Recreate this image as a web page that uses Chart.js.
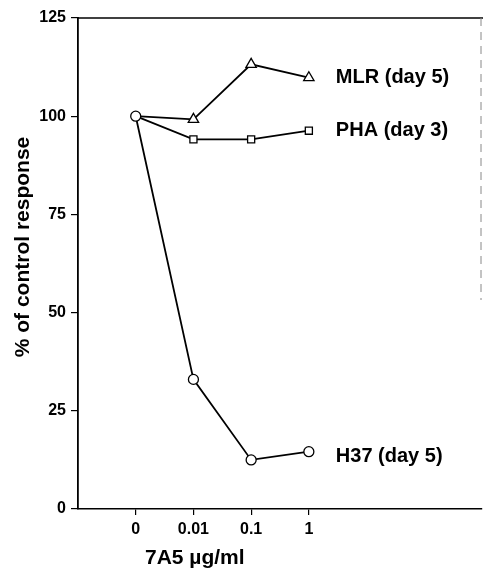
<!DOCTYPE html>
<html>
<head>
<meta charset="utf-8">
<script src="https://cdn.jsdelivr.net/npm/chart.js@4.4.0/dist/chart.umd.min.js"></script>
<style>
  html, body { margin: 0; padding: 0; background: #fff; overflow: hidden; }
  #wrap { width: 483px; height: 570px; }
  canvas { display: block; }
</style>
</head>
<body>
<div id="wrap"><canvas id="chart" width="483" height="570"></canvas></div>
<script>
// dose categories on the x axis, plotted at positions 0..3
const doses = ['0', '0.01', '0.1', '1'];
const yTicks = [0, 25, 50, 75, 100, 125];

// % of control response per dose
const h37 = [100, 33.0, 12.5, 14.6];
const mlr = [100, 99.2, 113.2, 109.8];
const pha = [100, 94.1, 94.1, 96.3];

const seriesNames = ['H37 (day 5)', 'MLR (day 5)', 'PHA (day 3)'];

const FONT = '"Liberation Sans", Arial, Helvetica, sans-serif';

function toPoints(values) {
    return values.map((v, i) => ({ x: i, y: v }));
}

// series names written next to the last point of each line
const endLabels = {
    id: 'endLabels',
    afterDatasetsDraw(chart) {
        const ctx = chart.ctx;
        ctx.save();
        ctx.font = 'bold 20px ' + FONT;
        ctx.fillStyle = '#000';
        ctx.textBaseline = 'middle';
        ctx.textAlign = 'left';
        chart.data.datasets.forEach((ds, i) => {
            const meta = chart.getDatasetMeta(i);
            const last = meta.data[meta.data.length - 1];
            const dy = ds.label.startsWith('H37') ? 5 : 0;
            ctx.fillText(ds.label, last.x + 27, last.y + dy);
        });
        ctx.restore();
    }
};

// axis titles and the frame lines of the original figure
const frame = {
    id: 'frame',
    afterDraw(chart) {
        const ctx = chart.ctx;
        const area = chart.chartArea;
        ctx.save();
        ctx.strokeStyle = '#000';
        ctx.lineWidth = 1.5;
        ctx.beginPath();
        ctx.moveTo(area.left, area.top);
        ctx.lineTo(area.right + 1, area.top);
        ctx.stroke();

        ctx.strokeStyle = '#888';
        ctx.lineWidth = 1;
        ctx.setLineDash([8, 6]);
        ctx.beginPath();
        ctx.moveTo(area.right - 1, area.top);
        ctx.lineTo(area.right - 1, 300);
        ctx.stroke();
        ctx.setLineDash([]);

        ctx.fillStyle = '#000';
        ctx.font = 'bold 21px ' + FONT;
        ctx.textBaseline = 'middle';
        ctx.textAlign = 'left';
        ctx.fillText('7A5 µg/ml', 145, 558);

        ctx.translate(23, 247);
        ctx.rotate(-Math.PI / 2);
        ctx.textAlign = 'center';
        ctx.fillText('% of control response', 0, 0);
        ctx.restore();
    }
};

const lineStyle = {
    borderColor: '#000',
    borderWidth: 1.8,
    pointBackgroundColor: '#fff',
    pointBorderColor: '#000',
    pointBorderWidth: 1.3,
    tension: 0,
    fill: false
};

new Chart(document.getElementById('chart'), {
    type: 'line',
    data: {
        datasets: [
            Object.assign({}, lineStyle, {
                label: seriesNames[0],
                data: toPoints(h37),
                pointStyle: 'circle',
                pointRadius: 5
            }),
            Object.assign({}, lineStyle, {
                label: seriesNames[1],
                data: toPoints(mlr),
                pointStyle: 'triangle',
                pointRadius: [0, 6, 6, 6]
            }),
            Object.assign({}, lineStyle, {
                label: seriesNames[2],
                data: toPoints(pha),
                pointStyle: 'rect',
                pointRadius: [0, 5, 5, 5]
            })
        ]
    },
    options: {
        responsive: false,
        animation: false,
        events: [],
        layout: { autoPadding: false, padding: { top: 18, right: 1, left: 0, bottom: 0 } },
        plugins: {
            legend: { display: false },
            tooltip: { enabled: false }
        },
        scales: {
            x: {
                type: 'linear',
                min: -1,
                max: 6,
                afterBuildTicks: (scale) => {
                    scale.ticks = doses.map((d, i) => ({ value: i }));
                },
                afterFit: (scale) => {
                    scale.height = 61;
                    scale.paddingLeft = 0;
                    scale.paddingRight = 0;
                },
                grid: { drawOnChartArea: false, drawTicks: true, tickLength: 6, color: '#000', lineWidth: 1.2 },
                border: { display: true, color: '#000', width: 1.6 },
                ticks: {
                    color: '#000',
                    padding: 5,
                    maxRotation: 0,
                    font: { family: FONT, size: 16, weight: 'bold' },
                    callback: (v) => doses[v]
                }
            },
            y: {
                type: 'linear',
                min: 0,
                max: 125,
                afterBuildTicks: (scale) => {
                    scale.ticks = yTicks.map(v => ({ value: v }));
                },
                afterFit: (scale) => { scale.width = 78; },
                grid: { drawOnChartArea: false, drawTicks: true, tickLength: 7, color: '#000', lineWidth: 1.2 },
                border: { display: true, color: '#000', width: 1.8 },
                ticks: {
                    color: '#000',
                    padding: 5,
                    font: { family: FONT, size: 16, weight: 'bold' }
                }
            }
        }
    },
    plugins: [endLabels, frame]
});
</script>
</body>
</html>
